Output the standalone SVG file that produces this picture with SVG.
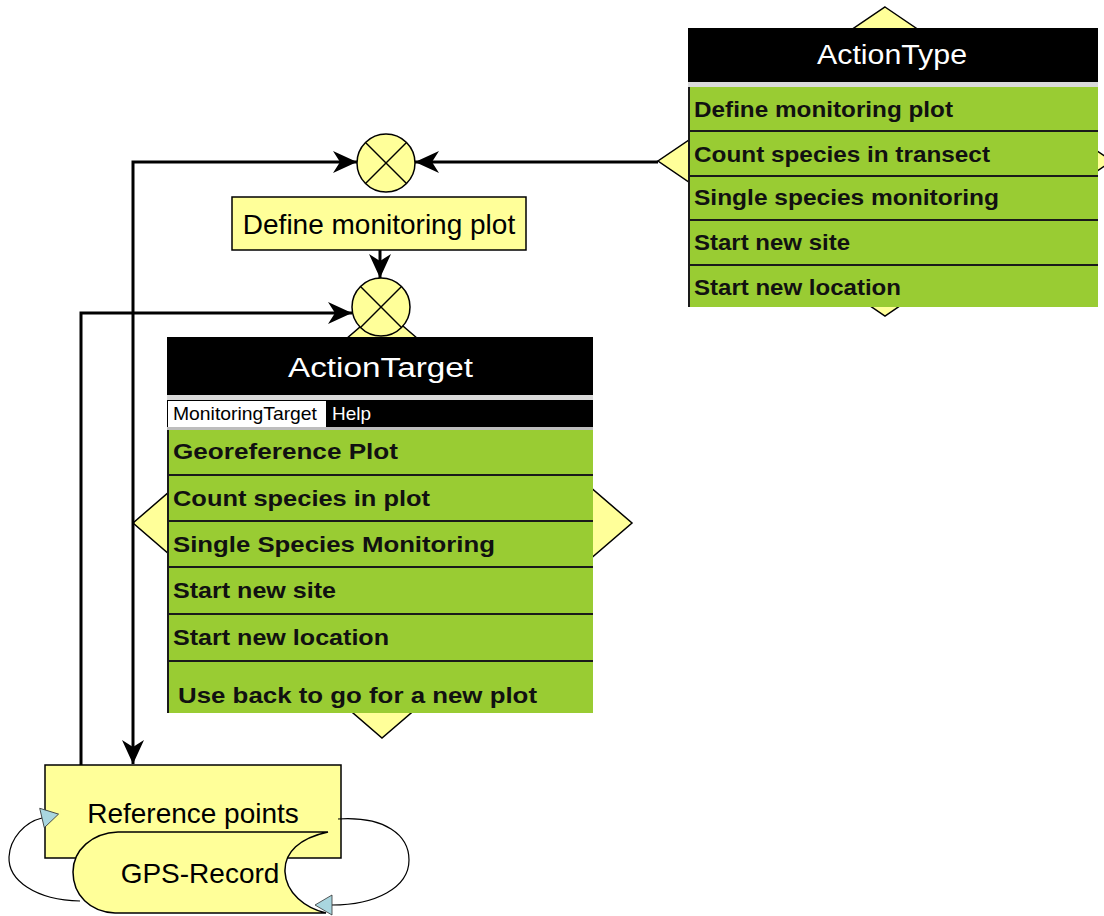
<svg xmlns="http://www.w3.org/2000/svg" width="1104" height="916" viewBox="0 0 1104 916">
  <style>
    .yel { fill: #FFFF99; stroke: #000; stroke-width: 1.5; }
    .bar { fill: #000; }
    .green { fill: #99CC33; }
    .sep { stroke: #1a1a1a; stroke-width: 2; }
    .row { font-family: "Liberation Sans", Arial, sans-serif; font-weight: bold; font-size: 22px; fill: #111; }
    .title { font-family: "Liberation Sans", Arial, sans-serif; font-size: 27px; fill: #fff; }
    .menu { font-family: "Liberation Sans", Arial, sans-serif; font-size: 19px; }
    .lbl { font-family: "Liberation Sans", Arial, sans-serif; font-size: 28px; fill: #000; }
    .conn { fill: none; stroke: #000; stroke-width: 3; }
    .loop { fill: none; stroke: #000; stroke-width: 1.2; }
  </style>
  <defs>
    <marker id="arr" markerUnits="userSpaceOnUse" markerWidth="26" markerHeight="26" viewBox="-25 -13 26 26" refX="0" refY="0" orient="auto">
      <path d="M0,0 L-24,-11 L-17,0 L-24,11 Z" fill="#000"/>
    </marker>
    <marker id="tri" markerUnits="userSpaceOnUse" markerWidth="22" markerHeight="24" viewBox="-1 -12 22 24" refX="0" refY="0" orient="auto">
      <path d="M0,-10 L17,0 L0,10 Z" fill="#A9D6DF" stroke="#333" stroke-width="0.8"/>
    </marker>
  </defs>

  <rect width="1104" height="916" fill="#fff"/>

  <!-- ActionType screen with its diamond -->
  <g id="action-type">
    <polygon class="yel" points="885,7 1112,161 885,316 658,161"/>
    <rect class="bar" x="688" y="28" width="410" height="54"/>
    <rect x="688" y="82" width="410" height="5" fill="#d9d9d9"/>
    <rect class="green" x="688" y="87" width="410" height="220"/>
    <line class="sep" x1="689" y1="87" x2="689" y2="307"/>
    <line class="sep" x1="688" y1="131" x2="1098" y2="131"/>
    <line class="sep" x1="688" y1="176" x2="1098" y2="176"/>
    <line class="sep" x1="688" y1="220" x2="1098" y2="220"/>
    <line class="sep" x1="688" y1="265" x2="1098" y2="265"/>
    <text class="title" x="817" y="64" font-size="26" textLength="150" lengthAdjust="spacingAndGlyphs">ActionType</text>
    <text class="row" x="694" y="117" textLength="259" lengthAdjust="spacingAndGlyphs">Define monitoring plot</text>
    <text class="row" x="694" y="162" textLength="296" lengthAdjust="spacingAndGlyphs">Count species in transect</text>
    <text class="row" x="694" y="205" textLength="305" lengthAdjust="spacingAndGlyphs">Single species monitoring</text>
    <text class="row" x="694" y="250" textLength="156" lengthAdjust="spacingAndGlyphs">Start new site</text>
    <text class="row" x="694" y="295" textLength="207" lengthAdjust="spacingAndGlyphs">Start new location</text>
  </g>

  <!-- ActionTarget screen with its diamond -->
  <g id="action-target">
    <polygon class="yel" points="382,308 632,523 382,738 133,523"/>
  </g>

  <!-- Junctions -->
  <g id="junction-1">
    <circle class="yel" cx="386" cy="163" r="29" stroke-width="2"/>
    <line x1="365.5" y1="142.5" x2="406.5" y2="183.5" stroke="#000" stroke-width="1.5"/>
    <line x1="406.5" y1="142.5" x2="365.5" y2="183.5" stroke="#000" stroke-width="1.5"/>
  </g>
  <g id="junction-2">
    <circle class="yel" cx="381" cy="307" r="29" stroke-width="2"/>
    <line x1="360.5" y1="286.5" x2="401.5" y2="327.5" stroke="#000" stroke-width="1.5"/>
    <line x1="401.5" y1="286.5" x2="360.5" y2="327.5" stroke="#000" stroke-width="1.5"/>
  </g>

  <g id="action-target-screen">
    <rect class="bar" x="167" y="337" width="426" height="58"/>
    <rect x="167" y="395" width="426" height="5" fill="#d9d9d9"/>
    <rect class="bar" x="167" y="400" width="426" height="27"/>
    <rect x="168" y="401" width="158" height="26" fill="#fff"/>
    <rect x="167" y="427" width="426" height="3" fill="#bdbdbd"/>
    <rect class="green" x="167" y="430" width="426" height="283"/>
    <line class="sep" x1="168" y1="430" x2="168" y2="713"/>
    <line class="sep" x1="167" y1="475" x2="593" y2="475"/>
    <line class="sep" x1="167" y1="521" x2="593" y2="521"/>
    <line class="sep" x1="167" y1="567" x2="593" y2="567"/>
    <line class="sep" x1="167" y1="614" x2="593" y2="614"/>
    <line class="sep" x1="167" y1="661" x2="593" y2="661"/>
    <text class="title" x="288" y="377" font-size="28" textLength="185" lengthAdjust="spacingAndGlyphs">ActionTarget</text>
    <text class="menu" x="173" y="420" fill="#000" textLength="144" lengthAdjust="spacingAndGlyphs">MonitoringTarget</text>
    <text class="menu" x="332" y="420" fill="#fff" textLength="39" lengthAdjust="spacingAndGlyphs">Help</text>
    <text class="row" x="173" y="459" font-size="23" textLength="225" lengthAdjust="spacingAndGlyphs">Georeference Plot</text>
    <text class="row" x="173" y="506" font-size="23" textLength="257" lengthAdjust="spacingAndGlyphs">Count species in plot</text>
    <text class="row" x="173" y="552" font-size="23" textLength="322" lengthAdjust="spacingAndGlyphs">Single Species Monitoring</text>
    <text class="row" x="173" y="598" font-size="23" textLength="163" lengthAdjust="spacingAndGlyphs">Start new site</text>
    <text class="row" x="173" y="645" font-size="23" textLength="216" lengthAdjust="spacingAndGlyphs">Start new location</text>
    <text class="row" x="178" y="703" font-size="23" textLength="359" lengthAdjust="spacingAndGlyphs">Use back to go for a new plot</text>
  </g>

  <!-- Process box -->
  <g id="define-plot">
    <rect class="yel" x="232" y="197" width="294" height="53"/>
    <text class="lbl" x="379" y="234" text-anchor="middle">Define monitoring plot</text>
  </g>

  <!-- Reference points and GPS record -->
  <g id="reference-points">
    <rect class="yel" x="45" y="765" width="296" height="93"/>
    <text class="lbl" x="193" y="823" text-anchor="middle">Reference points</text>
  </g>
  <g id="gps-record">
    <path class="yel" d="M118,832 L328,832 C300,838 284,852 285,872 C286,893 305,908 326,913 L115,913 C90,912 73,895 73,872 C73,850 92,833 118,832 Z"/>
    <text class="lbl" x="200" y="883" text-anchor="middle">GPS-Record</text>
  </g>

  <!-- Connectors -->
  <g id="connectors">
    <path class="conn" d="M658,162 L415,162" marker-end="url(#arr)"/>
    <path class="conn" d="M133,523 L133,162 L357,162" marker-end="url(#arr)"/>
    <path class="conn" d="M133,523 L133,764" marker-end="url(#arr)"/>
    <path class="conn" d="M380,250 L380,278" marker-end="url(#arr)"/>
    <path class="conn" d="M81,765 L81,313 L352,313" marker-end="url(#arr)"/>
    <path class="loop" d="M80,901 C35,900 8,880 9,857 C10,838 25,822 42,818" marker-end="url(#tri)"/>
    <path class="loop" d="M338,819 C385,816 409,835 409,860 C409,888 375,905 332,905" marker-end="url(#tri)"/>
  </g>
</svg>
